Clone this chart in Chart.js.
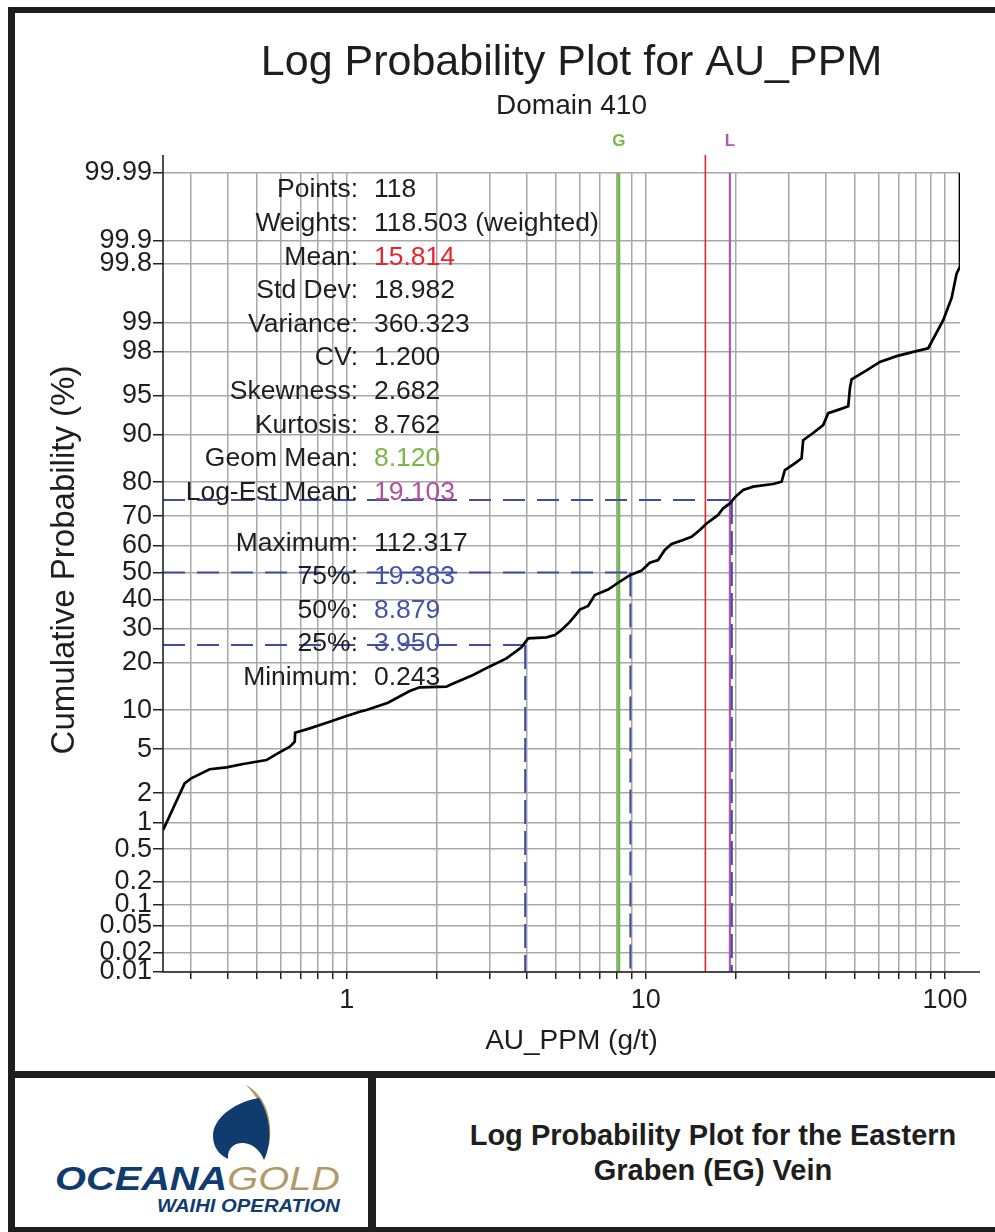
<!DOCTYPE html>
<html>
<head>
<meta charset="utf-8">
<script src="https://cdn.jsdelivr.net/npm/chart.js@4.4.1/dist/chart.umd.min.js"></script>
<style>
  html, body { margin: 0; padding: 0; background: #fff; }
  #page { position: relative; width: 995px; height: 1232px; overflow: hidden; background: #fff; }
  #c { position: absolute; left: 0; top: 0; }
  .band { position: absolute; background: #1e1e1e; }
  #caption { position: absolute; left: 376px; top: 1078px; width: 674px; height: 149px;
    display: flex; align-items: center; justify-content: center; text-align: center;
    font-family: 'Liberation Sans', Arial, sans-serif; font-weight: bold; font-size: 29px;
    line-height: 35px; color: #1e1e1e; }
</style>
</head>
<body>
<div id="page">
  <canvas id="c" width="995" height="1071"></canvas>
  <div class="band" style="left:8px;top:7px;width:987px;height:6px"></div>
  <div class="band" style="left:8px;top:7px;width:7px;height:1225px"></div>
  <div class="band" style="left:8px;top:1071px;width:987px;height:7px"></div>
  <div class="band" style="left:8px;top:1227px;width:987px;height:5px"></div>
  <div class="band" style="left:368px;top:1078px;width:8px;height:149px"></div>
  <svg style="position:absolute;left:15px;top:1078px" width="353" height="149" viewBox="0 0 353 149">
    <path d="M231,7 C249,16 259,40 254,68 L250,68 C254,42 246,22 231,7 Z" fill="#b09a68"/>
    <path d="M244,20 C220,24 198,40 198,58 C198,70 205,77 213,81 C212,71 219,64 229,65 C239,66 246,74 249,82 C256,68 258,42 244,20 Z" fill="#0f3b6f"/>
    <text x="40" y="112" font-family="Liberation Sans, Arial, sans-serif" font-weight="bold" font-style="italic" font-size="33" textLength="285" lengthAdjust="spacingAndGlyphs"><tspan fill="#0f3b6f">OCEANA</tspan><tspan fill="#b09a68" font-weight="normal">GOLD</tspan></text>
    <text x="142" y="134" font-family="Liberation Sans, Arial, sans-serif" font-weight="bold" font-style="italic" font-size="19" textLength="183" lengthAdjust="spacingAndGlyphs" fill="#0f3b6f">WAIHI OPERATION</text>
  </svg>
  <div id="caption">Log Probability Plot for the Eastern<br>Graben (EG) Vein</div>
</div>
<script>
// ---------------- data ----------------
const auGrade = [0.243, 0.287, 0.302, 0.348, 0.396, 0.450, 0.539, 0.582, 0.645, 0.670,
  0.672, 0.752, 0.877, 0.998, 1.105, 1.164, 1.374, 1.624, 1.754, 2.155,
  2.211, 2.645, 3.008, 3.421, 3.839, 4.042, 4.655, 4.963, 5.225, 5.570,
  5.866, 6.017, 6.412, 6.751, 7.478, 8.080, 8.842, 9.674, 10.31, 10.99,
  11.57, 12.19, 13.33, 14.22, 15.16, 15.96, 17.45, 18.14, 19.10, 19.85,
  21.16, 22.85, 26.66, 28.44, 29.17, 31.50, 33.17, 33.58, 36.25, 39.17,
  40.71, 43.97, 47.50, 48.13, 48.75, 54.71, 60.62, 68.95, 78.34, 87.94,
  98.70, 105.3, 109.4, 112.317, 112.317];
const cumProb = [0.82, 2.48, 2.77, 3.35, 3.48, 3.73, 4.04, 4.55, 5.24, 5.76,
  6.79, 7.34, 8.24, 9.07, 9.75, 10.03, 11.28, 13.5, 14.26, 14.4,
  14.75, 17.0, 19.1, 21.2, 24.3, 27.0, 27.3, 28.0, 29.6, 32.3,
  35.0, 36.5, 37.8, 41.7, 43.7, 46.2, 49.0, 50.7, 53.6, 54.6,
  58.3, 60.5, 61.9, 63.0, 65.4, 67.6, 70.4, 72.5, 74.0, 75.8,
  77.9, 78.8, 79.5, 80.1, 83.0, 84.5, 85.6, 89.1, 90.3, 91.5,
  93.1, 93.5, 93.9, 95.7, 96.4, 97.0, 97.5, 97.8, 98.0, 98.16,
  99.06, 99.47, 99.73, 99.78, 99.99];

const yTickValues = [0.01, 0.02, 0.05, 0.1, 0.2, 0.5, 1, 2, 5, 10, 20, 30, 40, 50, 60, 70, 80, 90, 95, 98, 99, 99.8, 99.9, 99.99];
const xTickValues = [0.3, 0.4, 0.5, 0.6, 0.7, 0.8, 0.9, 1, 2, 3, 4, 5, 6, 7, 8, 9, 10, 20, 30, 40, 50, 60, 70, 80, 90, 100];
const xTickLabels = [1, 10, 100];

const statLabels = ['Points:', 'Weights:', 'Mean:', 'Std Dev:', 'Variance:', 'CV:', 'Skewness:', 'Kurtosis:', 'Geom Mean:', 'Log-Est Mean:', 'Maximum:', '75%:', '50%:', '25%:', 'Minimum:'];
const statValues = ['118', '118.503 (weighted)', '15.814', '18.982', '360.323', '1.200', '2.682', '8.762', '8.120', '19.103', '112.317', '19.383', '8.879', '3.950', '0.243'];
const statColors = ['#1e1e1e', '#1e1e1e', '#e8242c', '#1e1e1e', '#1e1e1e', '#1e1e1e', '#1e1e1e', '#1e1e1e', '#7ab648', '#b24f9e', '#1e1e1e', '#4453a6', '#4453a6', '#4453a6', '#1e1e1e'];

const quantileProbs = [75, 50, 25];
const quantileValues = [19.383, 8.879, 3.950];
const meanValue = 15.814;
const geomMean = 8.120;
const logEstMean = 19.103;
const xMin = 0.243, xMax = 112.317;
const yMin = 0.01, yMax = 99.99;

// ---------------- probit scale ----------------
function probit(p) {
  const a = [-3.969683028665376e+01, 2.209460984245205e+02, -2.759285104469687e+02, 1.383577518672690e+02, -3.066479806614716e+01, 2.506628277459239e+00];
  const b = [-5.447609879822406e+01, 1.615858368580409e+02, -1.556989798598866e+02, 6.680131188771972e+01, -1.328068155288572e+01];
  const c = [-7.784894002430293e-03, -3.223964580411365e-01, -2.400758277161838e+00, -2.549732539343734e+00, 4.374664141464968e+00, 2.938163982698783e+00];
  const d = [7.784695709041462e-03, 3.224671290700398e-01, 2.445134137142996e+00, 3.754408661907416e+00];
  const pl = 0.02425, ph = 1 - pl;
  let q, r;
  if (p < pl) {
    q = Math.sqrt(-2 * Math.log(p));
    return (((((c[0]*q+c[1])*q+c[2])*q+c[3])*q+c[4])*q+c[5]) / ((((d[0]*q+d[1])*q+d[2])*q+d[3])*q+1);
  }
  if (p <= ph) {
    q = p - 0.5; r = q * q;
    return (((((a[0]*r+a[1])*r+a[2])*r+a[3])*r+a[4])*r+a[5])*q / (((((b[0]*r+b[1])*r+b[2])*r+b[3])*r+b[4])*r+1);
  }
  q = Math.sqrt(-2 * Math.log(1 - p));
  return -(((((c[0]*q+c[1])*q+c[2])*q+c[3])*q+c[4])*q+c[5]) / ((((d[0]*q+d[1])*q+d[2])*q+d[3])*q+1);
}
function normCdf(z) {
  const t = 1 / (1 + 0.3275911 * Math.abs(z) / Math.SQRT2);
  const y = 1 - (((((1.061405429*t - 1.453152027)*t) + 1.421413741)*t - 0.284496736)*t + 0.254829592)*t*Math.exp(-z*z/2);
  return z >= 0 ? 0.5 * (1 + y) : 0.5 * (1 - y);
}

class ProbitScale extends Chart.LinearScale {
  determineDataLimits() {
    this.min = probit(this.options.min / 100);
    this.max = probit(this.options.max / 100);
  }
  buildTicks() {
    return yTickValues.map(v => ({ value: v }));
  }
  getPixelForValue(value) {
    if (value === null || value === undefined || isNaN(value)) return NaN;
    return super.getPixelForValue(probit(value / 100));
  }
  getValueForPixel(pixel) {
    return 100 * normCdf(super.getValueForPixel(pixel));
  }
}
ProbitScale.id = 'probit';
ProbitScale.defaults = {};
Chart.register(ProbitScale);

// ---------------- drawing helpers ----------------
const FONT = "'Liberation Sans', Arial, sans-serif";
const TEXT = '#1e1e1e';

const overlay = {
  id: 'overlay',
  beforeDatasetsDraw(chart) {
    const { ctx, chartArea: ca, scales } = chart;
    const refs = [
      { v: geomMean, color: '#72bb48', w: 3, top: ca.top },
      { v: meanValue, color: '#e5242c', w: 1.6, top: ca.top - 18 },
      { v: logEstMean, color: '#b457b3', w: 2.2, top: ca.top }
    ];
    ctx.save();
    refs.forEach(r => {
      const x = scales.x.getPixelForValue(r.v);
      ctx.strokeStyle = r.color; ctx.lineWidth = r.w;
      ctx.beginPath(); ctx.moveTo(x, r.top); ctx.lineTo(x, ca.bottom); ctx.stroke();
    });
    ctx.restore();
  },
  afterDraw(chart) {
    const { ctx, chartArea: ca, scales } = chart;
    const axisEnd = ca.right + 20;
    const cx = (ca.left + axisEnd) / 2;
    ctx.save();
    // axis lines
    ctx.strokeStyle = '#222'; ctx.lineWidth = 1.6;
    ctx.beginPath(); ctx.moveTo(ca.left, ca.top - 18); ctx.lineTo(ca.left, ca.bottom); ctx.lineTo(axisEnd, ca.bottom); ctx.stroke();
    // titles
    ctx.fillStyle = TEXT; ctx.textAlign = 'center'; ctx.textBaseline = 'alphabetic';
    ctx.font = '43px ' + FONT;
    ctx.fillText('Log Probability Plot for AU_PPM', cx, 75);
    ctx.font = '28px ' + FONT;
    ctx.fillText('Domain 410', cx, 114);
    // G and L markers
    ctx.font = 'bold 17px ' + FONT; ctx.textBaseline = 'middle';
    ctx.fillStyle = '#72bb48';
    ctx.fillText('G', scales.x.getPixelForValue(geomMean), ca.top - 32);
    ctx.fillStyle = '#b457b3';
    ctx.fillText('L', scales.x.getPixelForValue(logEstMean), ca.top - 32);
    // axis titles
    ctx.fillStyle = TEXT;
    ctx.font = '28px ' + FONT; ctx.textBaseline = 'alphabetic';
    ctx.fillText('AU_PPM (g/t)', cx, ca.bottom + 77);
    ctx.save();
    ctx.translate(65, 560); ctx.rotate(-Math.PI / 2);
    ctx.font = '33px ' + FONT; ctx.textBaseline = 'middle';
    ctx.fillText('Cumulative Probability (%)', 0, 0);
    ctx.restore();
    // statistics block
    ctx.font = '26.5px ' + FONT; ctx.textBaseline = 'middle';
    const labelX = ca.left + 195, valueX = ca.left + 211;
    statLabels.forEach((lab, i) => {
      const y = ca.top + 17 + 33.6 * i + (i >= 10 ? 17.2 : 0);
      ctx.fillStyle = TEXT; ctx.textAlign = 'right';
      ctx.fillText(lab, labelX, y);
      ctx.fillStyle = statColors[i]; ctx.textAlign = 'left';
      ctx.fillText(statValues[i], valueX, y);
    });
    ctx.restore();
  }
};

// ---------------- datasets ----------------
const dashColor = '#3e4da3';
const datasets = [{
  label: 'AU_PPM',
  data: auGrade.map((v, i) => ({ x: v, y: cumProb[i] })),
  borderColor: '#000', borderWidth: 2.7, pointRadius: 0, tension: 0, order: 0
}];
quantileProbs.forEach((p, i) => {
  datasets.push({
    label: 'h' + p,
    data: [{ x: xMin, y: p }, { x: quantileValues[i], y: p }],
    borderColor: dashColor, borderWidth: 2, borderDash: [22, 12], pointRadius: 0, order: 2
  });
  datasets.push({
    label: 'v' + p,
    data: [{ x: quantileValues[i], y: p }, { x: quantileValues[i], y: yMin }],
    borderColor: dashColor, borderWidth: 2, borderDash: [24, 7], pointRadius: 0, order: 2
  });
});

const gridStyle = { color: '#a8a8a8', lineWidth: 1.5, tickColor: '#222', tickWidth: 1.5 };

new Chart(document.getElementById('c'), {
  type: 'line',
  data: { datasets },
  options: {
    responsive: false,
    animation: false,
    events: [],
    layout: { padding: { top: 173, right: 35, left: 0, bottom: 0 } },
    plugins: { legend: { display: false }, tooltip: { enabled: false }, title: { display: false } },
    scales: {
      x: {
        type: 'logarithmic', min: xMin, max: xMax, bounds: 'data', offset: false,
        afterBuildTicks: s => { s.ticks = xTickValues.map(v => ({ value: v })); },
        afterFit: s => { s.height = 99; },
        ticks: {
          autoSkip: false, maxRotation: 0, padding: 5, color: TEXT,
          font: { family: FONT, size: 27 },
          callback: v => xTickLabels.includes(v) ? String(v) : ''
        },
        grid: Object.assign({ tickLength: 7, drawTicks: true }, gridStyle),
        border: { display: false }
      },
      y: {
        type: 'probit', min: yMin, max: yMax,
        afterFit: s => { s.width = 163; },
        ticks: {
          autoSkip: false, padding: 1, color: TEXT,
          font: { family: FONT, size: 27 },
          callback: v => String(v)
        },
        grid: Object.assign({ tickLength: 10, drawTicks: true }, gridStyle),
        border: { display: false }
      }
    }
  },
  plugins: [overlay]
});
</script>
</body>
</html>
